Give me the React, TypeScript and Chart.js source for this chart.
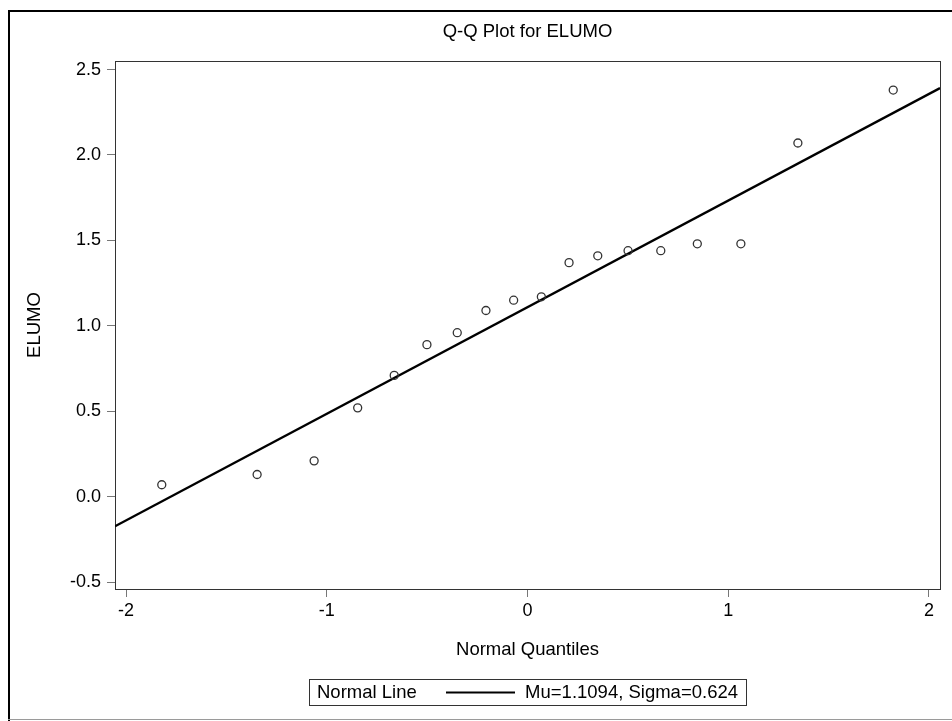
import React, { useEffect, useRef } from "react";
import { Chart, registerables } from "chart.js";

Chart.register(...registerables);

const TITLE = "Q-Q Plot for ELUMO";
const X_LABEL = "Normal Quantiles";
const Y_LABEL = "ELUMO";
const QUANTILES = [-1.822, -1.347, -1.063, -0.846, -0.664, -0.501, -0.35, -0.207, -0.069, 0.069, 0.207, 0.35, 0.501, 0.664, 0.846, 1.063, 1.347, 1.822];
const ELUMO = [0.07, 0.13, 0.21, 0.52, 0.71, 0.89, 0.96, 1.09, 1.15, 1.17, 1.37, 1.41, 1.44, 1.44, 1.48, 1.48, 2.07, 2.38];
const MU = 1.1094;
const SIGMA = 0.624;
const X_TICKS = [-2, -1, 0, 1, 2];
const Y_TICKS = [-0.5, 0, 0.5, 1, 1.5, 2, 2.5];
const X_RANGE = [-2.055, 2.055];
const Y_RANGE = [-0.54, 2.55];
const LEGEND_LABEL = "Normal Line";
const LEGEND_TEXT = "Mu=1.1094, Sigma=0.624";

const FONT = "'Liberation Sans', Arial, Helvetica, sans-serif";

const decor = {
  id: "decor",
  beforeDraw(chart: any) {
    const ctx = chart.ctx;
    ctx.save();
    ctx.fillStyle = "#ffffff";
    ctx.fillRect(0, 0, chart.width, chart.height);
    ctx.restore();
  },
  beforeDatasetsDraw(chart: any) {
    const ctx = chart.ctx;
    const { left, top, right, bottom } = chart.chartArea;
    ctx.save();
    ctx.strokeStyle = "#333333";
    ctx.lineWidth = 1;
    ctx.strokeRect(Math.round(left) + 0.5, Math.round(top) + 0.5, Math.round(right - left), Math.round(bottom - top));
    ctx.restore();
  },
  afterDraw(chart: any) {
    const ctx = chart.ctx;
    const { left, right } = chart.chartArea;
    const cx = (left + right) / 2;
    ctx.save();
    // outer frame
    ctx.strokeStyle = "#000000";
    ctx.lineWidth = 2;
    ctx.beginPath();
    ctx.moveTo(9, 721);
    ctx.lineTo(9, 11);
    ctx.lineTo(952, 11);
    ctx.stroke();
    ctx.strokeStyle = "#9a9a9a";
    ctx.lineWidth = 1;
    ctx.beginPath();
    ctx.moveTo(8, 719.5);
    ctx.lineTo(952, 719.5);
    ctx.stroke();

    // title
    ctx.fillStyle = "#000000";
    ctx.font = `18.5px ${FONT}`;
    ctx.textAlign = "center";
    ctx.textBaseline = "alphabetic";
    ctx.fillText(TITLE, cx, 37);

    // legend box
    const bw = 437, bh = 26;
    const bx = Math.round(cx - bw / 2), by = 679;
    const my = by + bh / 2 + 0.5;
    ctx.strokeStyle = "#333333";
    ctx.lineWidth = 1;
    ctx.strokeRect(bx + 0.5, by + 0.5, bw, bh);
    ctx.font = `18.5px ${FONT}`;
    ctx.textAlign = "left";
    ctx.textBaseline = "middle";
    ctx.fillStyle = "#000000";
    ctx.fillText(LEGEND_LABEL, bx + 8, my);
    ctx.strokeStyle = "#000000";
    ctx.lineWidth = 2.2;
    ctx.beginPath();
    ctx.moveTo(bx + 137, my);
    ctx.lineTo(bx + 206, my);
    ctx.stroke();
    ctx.textAlign = "right";
    ctx.fillText(LEGEND_TEXT, bx + bw - 8, my);
    ctx.restore();
  },
};

export default function App() {
  const ref = useRef<HTMLCanvasElement | null>(null);

  useEffect(() => {
    if (!ref.current) return;
    const chart = new Chart(ref.current, {
      type: "scatter",
      data: {
        datasets: [
          {
            label: "ELUMO",
            data: QUANTILES.map((q, i) => ({ x: q, y: ELUMO[i] })),
            pointStyle: "circle",
            pointRadius: 4,
            pointBorderWidth: 1.3,
            pointBorderColor: "#333333",
            pointBackgroundColor: "rgba(255,255,255,0)",
            showLine: false,
          },
          {
            label: LEGEND_LABEL,
            data: X_RANGE.map((x) => ({ x, y: MU + SIGMA * x })),
            showLine: true,
            borderColor: "#000000",
            borderWidth: 2.4,
            pointRadius: 0,
            fill: false,
          },
        ],
      },
      options: {
        responsive: false,
        animation: false,
        layout: { padding: { left: 24, top: 61, right: 12, bottom: 60 } },
        plugins: {
          legend: { display: false },
          title: { display: false },
          tooltip: { enabled: false },
        },
        scales: {
          x: {
            type: "linear",
            min: X_RANGE[0],
            max: X_RANGE[1],
            afterBuildTicks: (s: any) => {
              s.ticks = X_TICKS.map((v) => ({ value: v }));
            },
            afterFit: (s: any) => {
              s.height = 72;
            },
            grid: { drawOnChartArea: false, drawTicks: true, tickLength: 8, color: "#777777", lineWidth: 1 },
            border: { display: false },
            ticks: {
              color: "#000000",
              font: { family: FONT, size: 18 },
              padding: 3,
              callback: (v: any) => String(v),
              maxRotation: 0,
            },
            title: {
              display: true,
              text: X_LABEL,
              color: "#000000",
              font: { family: FONT, size: 18.5 },
              padding: { top: 0, bottom: 0 },
            },
          },
          y: {
            type: "linear",
            min: Y_RANGE[0],
            max: Y_RANGE[1],
            afterBuildTicks: (s: any) => {
              s.ticks = Y_TICKS.map((v) => ({ value: v }));
            },
            afterFit: (s: any) => {
              s.width = 91;
            },
            grid: { drawOnChartArea: false, drawTicks: true, tickLength: 8, color: "#777777", lineWidth: 1 },
            border: { display: false },
            ticks: {
              color: "#000000",
              font: { family: FONT, size: 18 },
              padding: 6,
              callback: (v: any) => Number(v).toFixed(1),
            },
            title: {
              display: true,
              text: Y_LABEL,
              color: "#000000",
              font: { family: FONT, size: 18.5 },
              padding: { top: 0, bottom: 0 },
            },
          },
        },
      },
      plugins: [decor],
    });
    return () => chart.destroy();
  }, []);

  return (
    <div style={{ position: "fixed", left: 0, top: 0, width: 952, height: 721, background: "#fff" }}>
      <canvas ref={ref} width={952} height={721} style={{ display: "block" }} />
    </div>
  );
}
